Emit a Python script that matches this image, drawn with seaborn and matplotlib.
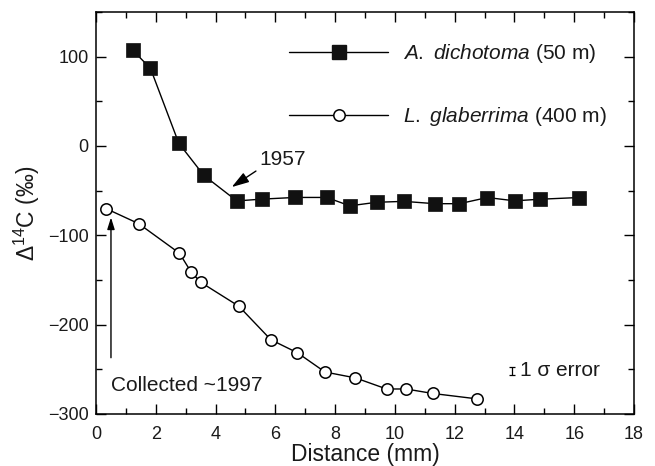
import matplotlib
matplotlib.use("Agg")
import matplotlib.pyplot as plt
from matplotlib.ticker import MultipleLocator
from matplotlib.lines import Line2D
import seaborn as sns
import pandas as pd

# A. dichotoma (50 m) -- filled squares
dich_x = [1.23, 1.82, 2.77, 3.61, 4.71, 5.54, 6.66, 7.72, 8.49, 9.39,
          10.30, 11.34, 12.16, 13.09, 14.01, 14.85, 16.15]
dich_y = [107, 87, 3, -33, -61.5, -59.5, -57.6, -57.6, -67, -63,
          -62, -64.6, -64.6, -57.7, -61.4, -59.6, -57.7]

# L. glaberrima (400 m) -- open circles
glab_x = [0.33, 1.43, 2.79, 3.18, 3.50, 4.78, 5.85, 6.74, 7.66, 8.68,
          9.72, 10.37, 11.26, 12.73]
glab_y = [-70, -87, -120, -141, -152.5, -179.4, -216.9, -231.5, -253, -259.6,
          -272, -272, -277, -283]

labels = [r"$\it{A.}$ $\it{dichotoma}$ (50 m)", r"$\it{L.}$ $\it{glaberrima}$ (400 m)"]

# annotation anchors (data units)
ann_1957_tip = (4.54, -46)
ann_1957_text = (5.46, -15)
collected_tip = (0.50, -80)
collected_tail = (0.50, -237)
collected_text = (0.49, -268.5)
sigma_pos = (13.92, -251.7)
sigma_err = 4.5

sns.set_style("ticks")
plt.rcParams["font.family"] = ["Liberation Sans", "DejaVu Sans"]
plt.rcParams["mathtext.fontset"] = "custom"
plt.rcParams["mathtext.rm"] = "Liberation Sans"
plt.rcParams["mathtext.it"] = "Liberation Sans:italic"
for key in ["text.color", "axes.labelcolor", "xtick.color", "ytick.color"]:
    plt.rcParams[key] = "#1a1a1a"

df_d = pd.DataFrame({"x": dich_x, "y": dich_y})
df_g = pd.DataFrame({"x": glab_x, "y": glab_y})

fig = plt.figure(figsize=(6.55, 4.66), dpi=100)
ax = fig.add_axes([0.1466, 0.1116, 0.8214, 0.8627])

sns.lineplot(data=df_d, x="x", y="y", ax=ax, sort=False, color="black", lw=1,
             marker="s", markersize=9.5, markerfacecolor="#111111",
             markeredgecolor="#111111", markeredgewidth=0.5)
sns.lineplot(data=df_g, x="x", y="y", ax=ax, sort=False, color="black", lw=1,
             marker="o", markersize=8.2, markerfacecolor="white",
             markeredgecolor="black", markeredgewidth=1.1)

ax.set_xlim(0, 18)
ax.set_ylim(-300, 150)
ax.xaxis.set_major_locator(MultipleLocator(2))
ax.xaxis.set_minor_locator(MultipleLocator(1))
ax.yaxis.set_major_locator(MultipleLocator(100))
ax.yaxis.set_minor_locator(MultipleLocator(50))
ax.tick_params(which="both", direction="in", top=True, right=True,
               width=1, color="black", labelsize=13)
ax.tick_params(axis="x", which="both", pad=8.5)
ax.tick_params(axis="y", which="both", pad=5.5)
ax.tick_params(which="major", length=7)
ax.tick_params(which="minor", length=4)
for sp in ax.spines.values():
    sp.set_linewidth(1.1)
    sp.set_color("black")

ax.set_xlabel("Distance (mm)", fontsize=16.5, labelpad=0)
ax.set_ylabel(r"$\Delta^{14}$C (‰)", fontsize=16.5, labelpad=4)

handles = [
    Line2D([], [], color="black", lw=1, marker="s", markersize=9.5,
           markerfacecolor="#111111", markeredgecolor="#111111"),
    Line2D([], [], color="black", lw=1, marker="o", markersize=8.2,
           markerfacecolor="white", markeredgecolor="black", markeredgewidth=1.1),
]
ax.legend(handles, labels, loc="upper left", bbox_to_anchor=(0.359, 0.925),
          frameon=False, fontsize=15, handlelength=4.75, handletextpad=0.72,
          labelspacing=1.93, borderpad=0, borderaxespad=0)

arrow = dict(arrowstyle="-|>,head_length=0.7,head_width=0.22", color="black",
             lw=1, shrinkA=0, shrinkB=0)
ax.annotate("1957", xy=ann_1957_tip, xytext=ann_1957_text, fontsize=15,
            ha="left", va="center",
            arrowprops=dict(arrow, relpos=(0, 0)))
ax.annotate("", xy=collected_tip, xytext=collected_tail, arrowprops=arrow)
ax.text(collected_text[0], collected_text[1], "Collected ~1997", fontsize=15,
        ha="left", va="center")

ax.errorbar([sigma_pos[0]], [sigma_pos[1]], yerr=sigma_err, fmt="none",
            ecolor="black", elinewidth=0.9, capsize=2, capthick=0.9)
ax.text(sigma_pos[0] + 0.26, sigma_pos[1], "1 σ error", fontsize=15,
        ha="left", va="center")

fig.savefig("out.png", dpi=100)
